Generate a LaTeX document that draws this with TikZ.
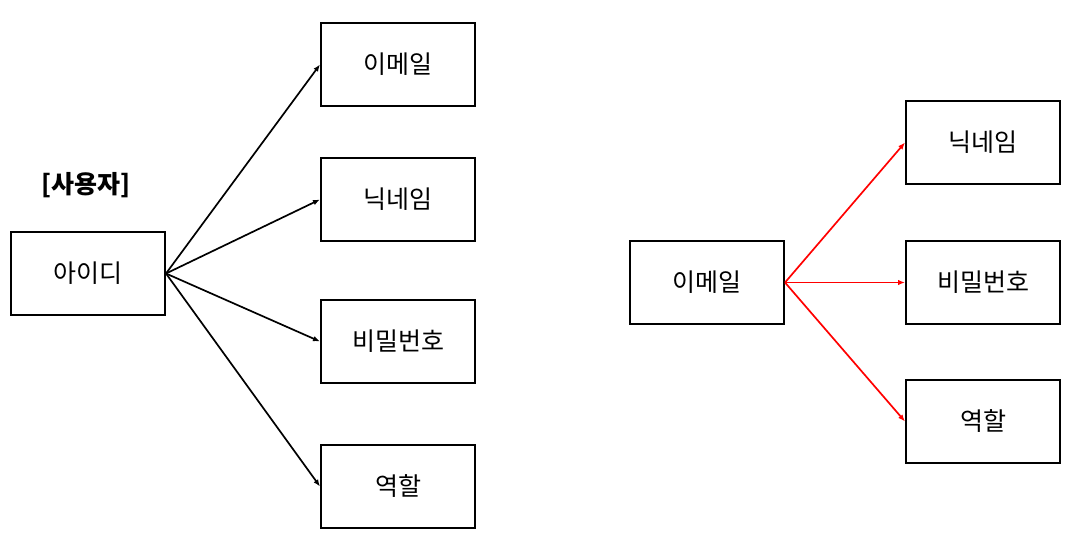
\documentclass[tikz,border=0pt]{standalone}
\usepackage{fontspec}
\setmainfont{Noto Sans CJK KR}
\usetikzlibrary{arrows.meta}
\begin{document}
\begin{tikzpicture}[x=1pt,y=-1pt,
  box/.style={draw=black,line width=2pt,minimum width=154pt,minimum height=83pt,inner sep=0pt,font=\fontsize{25}{30}\selectfont},
  conn/.style={line width=1.7pt,-{Latex[length=7pt,width=5.5pt]}},
  redconn/.style={conn,draw=red,-{Latex[length=7pt,width=5.5pt,fill=red]}}]
\useasboundingbox (0,0) rectangle (1070,533);
\node[font=\bfseries\fontsize{25}{30}\selectfont] (title) at (86,185) {[사용자]};
\node[box] (id) at (88,273.5) {아이디};
\node[box] (email) at (398,64.5) {이메일};
\node[box] (nick) at (398,199.5) {닉네임};
\node[box] (pw) at (398,341.5) {비밀번호};
\node[box] (role) at (398,486.5) {역할};
\node[box] (email2) at (707,282.5) {이메일};
\node[box] (nick2) at (983,142.5) {닉네임};
\node[box] (pw2) at (983,282.5) {비밀번호};
\node[box] (role2) at (983,421.5) {역할};
\foreach \t in {email,nick,pw,role} \draw[conn] (id.east) -- (\t.west);
\foreach \t in {nick2,pw2,role2} \draw[redconn] (email2.east) -- (\t.west);
\end{tikzpicture}
\end{document}
